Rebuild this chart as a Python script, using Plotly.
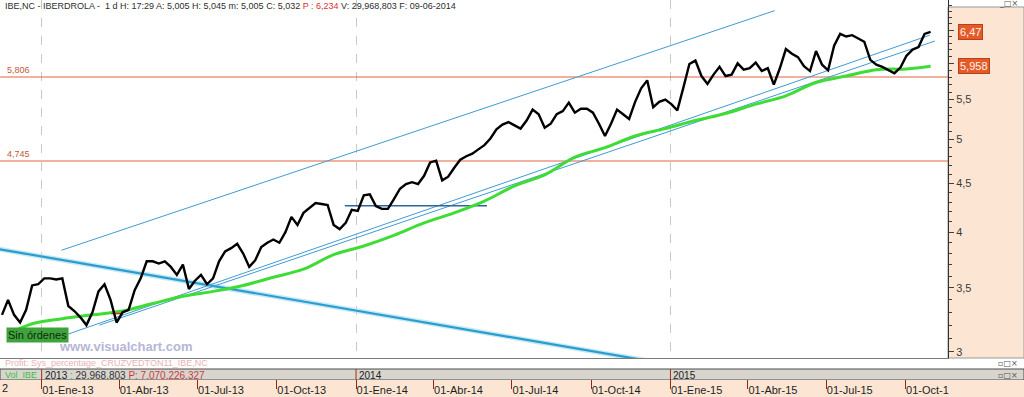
import numpy as np
import pandas as pd
import plotly.graph_objects as go

# ---------------- data ----------------
week_start = "2012-11-16"          # weekly closes, Fridays
close = [3.28, 3.40, 3.28, 3.22, 3.32, 3.52, 3.53, 3.58, 3.58, 3.57,
         3.58, 3.35, 3.31, 3.26, 3.20, 3.30, 3.47, 3.53, 3.40, 3.22,
         3.30, 3.32, 3.48, 3.58, 3.73, 3.73, 3.71, 3.73, 3.68, 3.61,
         3.70, 3.49, 3.56, 3.61, 3.53, 3.58, 3.73, 3.82, 3.85, 3.89,
         3.80, 3.68, 3.74, 3.86, 3.90, 3.93, 3.90, 4.00, 4.15, 4.07,
         4.19, 4.24, 4.29, 4.28, 4.27, 4.07, 4.03, 4.09, 4.22, 4.21,
         4.37, 4.38, 4.26, 4.23, 4.23, 4.33, 4.44, 4.49, 4.51, 4.49,
         4.58, 4.73, 4.75, 4.53, 4.57, 4.67, 4.76, 4.80, 4.83, 4.88,
         4.93, 5.01, 5.12, 5.18, 5.21, 5.17, 5.13, 5.23, 5.37, 5.31,
         5.14, 5.19, 5.31, 5.35, 5.46, 5.33, 5.38, 5.38, 5.33, 5.19,
         5.04, 5.19, 5.37, 5.31, 5.25, 5.47, 5.65, 5.76, 5.40, 5.47,
         5.50, 5.44, 5.36, 5.66, 5.99, 6.04, 5.82, 5.71, 5.84, 5.95,
         5.82, 5.84, 6.00, 5.91, 5.93, 6.01, 5.89, 5.93, 5.70, 5.93,
         6.21, 6.14, 6.09, 5.96, 5.89, 6.18, 5.98, 5.90, 6.26, 6.44,
         6.40, 6.42, 6.37, 6.32, 6.05, 5.98, 5.95, 5.91, 5.86, 5.94,
         6.11, 6.20, 6.24, 6.44, 6.47]

ma_week_idx = [1] + list(range(5, 151, 5)) + [154]
ma_values = [3.13, 3.21, 3.25, 3.28, 3.31, 3.37, 3.43, 3.47, 3.52, 3.59,
             3.66, 3.79, 3.87, 3.97, 4.09, 4.19, 4.31, 4.47, 4.59, 4.79,
             4.90, 5.04, 5.13, 5.23, 5.32, 5.44, 5.55, 5.73, 5.82, 5.91,
             5.92, 5.958]

# drawn trend lines (two end points each)
chan_up_x, chan_up_y = ["2013-01-24", "2015-05-02"], [3.83, 6.81]
chan_a_x, chan_a_y = ["2013-01-22", "2015-10-29"], [3.11, 6.42]
chan_b_x, chan_b_y = ["2013-03-09", "2015-11-04"], [3.20, 6.33]
down_x, down_y = ["2012-11-13", "2015-02-04"], [3.84, 2.875]
supp_x, supp_y = ["2013-12-19", "2014-06-02"], [4.263, 4.263]
redmark_x, redmark_y = ["2013-03-23", "2013-04-04"], [3.29, 3.29]
levels = [5.806, 4.745]
level_labels = ["5,806", "4,745"]
last_price, last_ma = 6.47, 5.958

x_range = ["2012-11-13 16:00", "2015-11-19 05:00"]
y_range = [2.957, 6.986]
y_ticks = [3, 3.5, 4, 4.5, 5, 5.5, 6, 6.5]
y_ticktext = ["3", "3,5", "4", "4,5", "5", "5,5", "", ""]
q_ticks = ["2013-01-01", "2013-04-01", "2013-07-01", "2013-10-01",
           "2014-01-01", "2014-04-01", "2014-07-01", "2014-10-01",
           "2015-01-01", "2015-04-01", "2015-07-01", "2015-10-01"]
q_labels = ["01-Ene-13", "01-Abr-13", "01-Jul-13", "01-Oct-13",
            "01-Ene-14", "01-Abr-14", "01-Jul-14", "01-Oct-14",
            "01-Ene-15", "01-Abr-15", "01-Jul-15", "01-Oct-1"]
year_ticks = ["2013-01-01", "2014-01-01", "2015-01-01"]
year_labels = ["2013", "2014", "2015"]

# ---------------- figure ----------------
weeks = pd.date_range(week_start, periods=len(close), freq="7D")
ma_dates = weeks[ma_week_idx]

W, H = 1024, 397
PX = 948 / W
def py(p):  # pixel from top -> paper y
    return (H - p) / H

fig = go.Figure()
thin = dict(color="#3f9bd3", width=1)
for lv in levels:
    fig.add_trace(go.Scatter(x=x_range, y=[lv, lv], mode="lines",
                             line=dict(color="#e2653e", width=1.1), hoverinfo="skip"))
fig.add_trace(go.Scatter(x=down_x, y=down_y, mode="lines",
                         line=dict(color="#c4e8f6", width=5), hoverinfo="skip"))
fig.add_trace(go.Scatter(x=down_x, y=down_y, mode="lines",
                         line=dict(color="#2a9dcc", width=2.2), hoverinfo="skip"))
fig.add_trace(go.Scatter(x=chan_up_x, y=chan_up_y, mode="lines", line=thin, hoverinfo="skip"))
fig.add_trace(go.Scatter(x=chan_a_x, y=chan_a_y, mode="lines", line=thin, hoverinfo="skip"))
fig.add_trace(go.Scatter(x=chan_b_x, y=chan_b_y, mode="lines", line=thin, hoverinfo="skip"))
fig.add_trace(go.Scatter(x=supp_x, y=supp_y, mode="lines",
                         line=dict(color="#2b679e", width=1.4), hoverinfo="skip"))
fig.add_trace(go.Scatter(x=ma_dates, y=ma_values, mode="lines", line_shape="spline",
                         line=dict(color="#3fdc36", width=3), hoverinfo="skip"))
fig.add_trace(go.Scatter(x=redmark_x, y=redmark_y, mode="lines",
                         line=dict(color="#e02a1a", width=1.5), hoverinfo="skip"))
fig.add_trace(go.Scatter(x=weeks, y=close, mode="lines",
                         line=dict(color="#000000", width=2.4), hoverinfo="skip"))
# dummy for the date strip subplot
fig.add_trace(go.Scatter(x=[weeks[0]], y=[0.5], xaxis="x2", yaxis="y2", mode="markers",
                         marker=dict(opacity=0), hoverinfo="skip"))

peach = "#fce6d3"
shapes = [
    dict(type="rect", xref="paper", yref="paper", x0=PX, x1=1, y0=py(358), y1=py(7),
         fillcolor=peach, line=dict(color="#9a9a9a", width=1), layer="below"),
    dict(type="rect", xref="paper", yref="paper", x0=0, x1=1, y0=py(380), y1=py(369),
         fillcolor="#d8d5cf", line=dict(color="#4a4a4a", width=1), layer="below"),
    dict(type="rect", xref="paper", yref="paper", x0=0, x1=1, y0=0, y1=py(380),
         fillcolor=peach, line=dict(width=0), layer="below"),
]
for yt in year_ticks:
    shapes.append(dict(type="line", xref="x", yref="paper", x0=yt, x1=yt,
                       y0=py(380), y1=py(369), line=dict(color="#a03020", width=1)))

small = dict(family="Liberation Sans", size=9, color="#2e2e2e")
ann = [
    dict(xref="paper", yref="paper", x=3 / W, y=py(6), xanchor="left", yanchor="middle",
         showarrow=False, font=small,
         text="IBE,NC - IBERDROLA -  1 d H: 17:29 A: 5,005 H: 5,045 m: 5,005 C: 5,032 "
              "<span style='color:#e03030'>P : 6,234</span> V: 29,968,803 F: 09-06-2014"),
    dict(xref="paper", yref="paper", x=1020 / W, y=py(4), xanchor="right", yanchor="middle",
         showarrow=False, font=dict(family="DejaVu Sans", size=8, color="#555555"),
         text="_□×"),
    dict(xref="paper", yref="paper", x=6 / W, y=py(335), xanchor="left", yanchor="middle",
         showarrow=False, bgcolor="#3fa33c", borderpad=1,
         font=dict(family="Liberation Sans", size=11, color="#102a10"), text="Sin órdenes"),
    dict(xref="paper", yref="paper", x=57 / W, y=py(346), xanchor="left", yanchor="middle",
         showarrow=False, font=dict(family="Liberation Sans", size=13, color="#b6b6d6"),
         text="<b>www.visualchart.com</b>"),
    dict(xref="paper", yref="paper", x=3 / W, y=py(363), xanchor="left", yanchor="middle",
         showarrow=False, font=dict(family="Liberation Sans", size=9, color="#e8b2b2"),
         text="Profit: Sys_percentage_CRUZVEDTON11_IBE,NC"),
    dict(xref="paper", yref="paper", x=3 / W, y=py(375), xanchor="left", yanchor="middle",
         showarrow=False, font=dict(family="Liberation Sans", size=9, color="#3cbf3c"),
         text="Vol_IBE"),
    dict(xref="paper", yref="paper", x=68 / W, y=py(375), xanchor="left", yanchor="middle",
         showarrow=False, font=dict(family="Liberation Sans", size=10, color="#333333"),
         text="<span style='color:#3cbf3c'>:</span> 29.968.803 "
              "<span style='color:#d03a3a'>P: 7.070.226.327</span>"),
    dict(xref="paper", yref="paper", x=1020 / W, y=py(375), xanchor="right", yanchor="middle",
         showarrow=False, font=dict(family="DejaVu Sans", size=8, color="#555555"), text="▫□×"),
    dict(xref="paper", yref="paper", x=1020 / W, y=py(363), xanchor="right", yanchor="middle",
         showarrow=False, font=dict(family="DejaVu Sans", size=8, color="#555555"), text="▫□×"),
    dict(xref="paper", yref="paper", x=0, y=py(388), xanchor="left", yanchor="middle",
         showarrow=False, font=dict(family="Liberation Sans", size=11, color="#222222"), text="2"),
]
for lv, lt in zip(levels, level_labels):
    ann.append(dict(xref="paper", yref="y", x=5 / W, y=np.log10(lv), xanchor="left",
                    yanchor="bottom", showarrow=False, yshift=0,
                    font=dict(family="Liberation Sans", size=9, color="#c0583a"), text=lt))
for yt, yl in zip(year_ticks, year_labels):
    ann.append(dict(xref="x", yref="paper", x=yt, y=py(375), xanchor="left", yanchor="middle",
                    showarrow=False, xshift=1,
                    font=dict(family="Liberation Sans", size=10, color="#222222"), text=yl))
for val, txt in [(last_price, "6,47"), (last_ma, "5,958")]:
    ann.append(dict(xref="paper", yref="y", x=958 / W, y=np.log10(val), xanchor="left",
                    yanchor="middle", showarrow=False, bgcolor="#e65a28",
                    bordercolor="#b8401a", borderwidth=1, borderpad=1,
                    font=dict(family="Liberation Sans", size=11, color="#fff4ee"), text=txt))

minor_vals = [round(v, 1) for v in np.arange(3.0, 7.0, 0.1) if round(v * 10) % 5 != 0]

fig.update_layout(
    width=W, height=H, margin=dict(l=0, r=0, t=0, b=0),
    paper_bgcolor="white", plot_bgcolor="rgba(0,0,0,0)", showlegend=False,
    font=dict(family="Liberation Sans", size=10, color="#333333"),
    xaxis=dict(domain=[0, PX], type="date", range=x_range, anchor="y",
               tickvals=year_ticks, showticklabels=False, ticks="",
               showgrid=True, griddash="dash", gridcolor="#c8c8c8", gridwidth=1,
               showline=True, linecolor="#7a7a7a", linewidth=1, mirror=False,
               zeroline=False, fixedrange=True),
    yaxis=dict(domain=[py(358), 1], type="log", range=list(np.log10(y_range)), anchor="x",
               side="right", tickvals=y_ticks, ticktext=y_ticktext, ticks="outside",
               ticklen=5, tickcolor="#404040", showline=True, linecolor="#303030",
               showgrid=False, zeroline=False,
               tickfont=dict(family="Liberation Sans", size=11, color="#3a3a3a"),
               minor=dict(tickvals=minor_vals, ticks="outside", ticklen=3,
                          tickcolor="#404040", showgrid=False)),
    xaxis2=dict(domain=[0, PX], type="date", range=x_range, anchor="y2", side="top",
                tickvals=q_ticks, ticktext=q_labels, ticks="inside", ticklen=9,
                tickcolor="#8c2a1a", ticklabelposition="inside right",
                ticklabeloverflow="allow", showgrid=False, showline=False, zeroline=False,
                tickfont=dict(family="Liberation Sans Narrow, Liberation Sans", size=11,
                              color="#1e1e1e")),
    yaxis2=dict(domain=[0, py(380)], range=[0, 1], visible=False, anchor="x2"),
    shapes=shapes, annotations=ann,
)

fig.write_html("out.html")
